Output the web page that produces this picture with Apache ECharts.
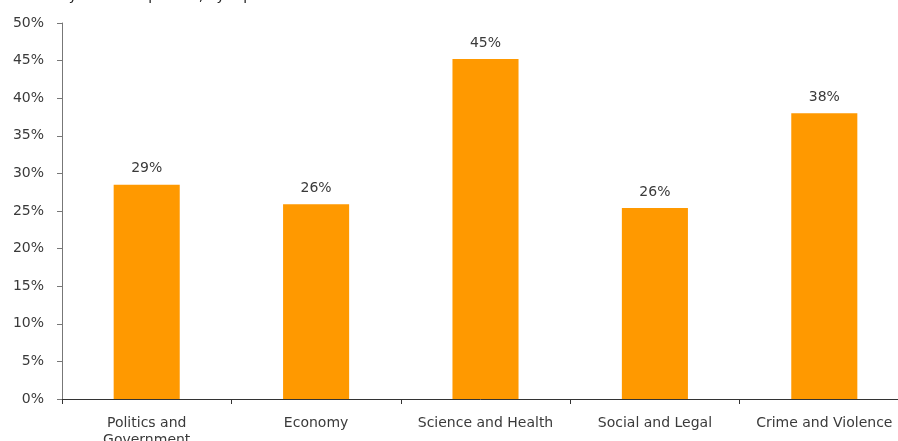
<!DOCTYPE html>
<html><head><meta charset="utf-8">
<script src="https://cdn.jsdelivr.net/npm/echarts@6/dist/echarts.min.js"></script>
<style>html,body{margin:0;padding:0;background:#fff}#c{width:898px;height:441px}</style>
</head><body><div id="c"></div>
<script>
var titleText = "Stories by female reporters, by topic";
var categories = ["Politics and\nGovernment", "Economy", "Science and Health", "Social and Legal", "Crime and Violence"];
var values = [28.5, 25.9, 45.2, 25.4, 38.0];
var valueLabels = ["29%", "26%", "45%", "26%", "38%"];
var yTicks = [0, 5, 10, 15, 20, 25, 30, 35, 40, 45, 50];

var FONT = 'DejaVu Sans';
var TXT = '#3a3a3a';
var chart = echarts.init(document.getElementById('c'));
chart.setOption({
  animation: false,
  backgroundColor: '#fff',
  title: {text: titleText, left: 2, top: -16, textStyle: {fontFamily: FONT, fontSize: 14, fontWeight: 'normal', color: '#222'}},
  grid: {left: 62, right: -11, top: 23, bottom: 42, containLabel: false, outerBoundsMode: 'none'},
  xAxis: {
    type: 'category', data: categories,
    axisLine: {lineStyle: {color: '#333', width: 1}},
    axisTick: {show: true, alignWithLabel: false, length: 5, lineStyle: {color: '#333'}},
    axisLabel: {color: TXT, fontFamily: FONT, fontSize: 14, margin: 16, lineHeight: 17, interval: 0}
  },
  yAxis: {
    type: 'value', min: yTicks[0], max: yTicks[yTicks.length-1], interval: 5,
    axisLine: {show: true, lineStyle: {color: '#777'}},
    axisTick: {show: true, length: 5, lineStyle: {color: '#777'}},
    splitLine: {show: false},
    axisLabel: {color: TXT, fontFamily: FONT, fontSize: 14, margin: 18, formatter: '{value}%'}
  },
  series: [{
    type: 'bar', data: values, barWidth: '39%',
    itemStyle: {color: '#FF9900'},
    label: {show: true, position: 'top', distance: 9, color: TXT, fontFamily: FONT, fontSize: 14,
      formatter: function(p){ return valueLabels[p.dataIndex]; }}
  }]
});
</script></body></html>
